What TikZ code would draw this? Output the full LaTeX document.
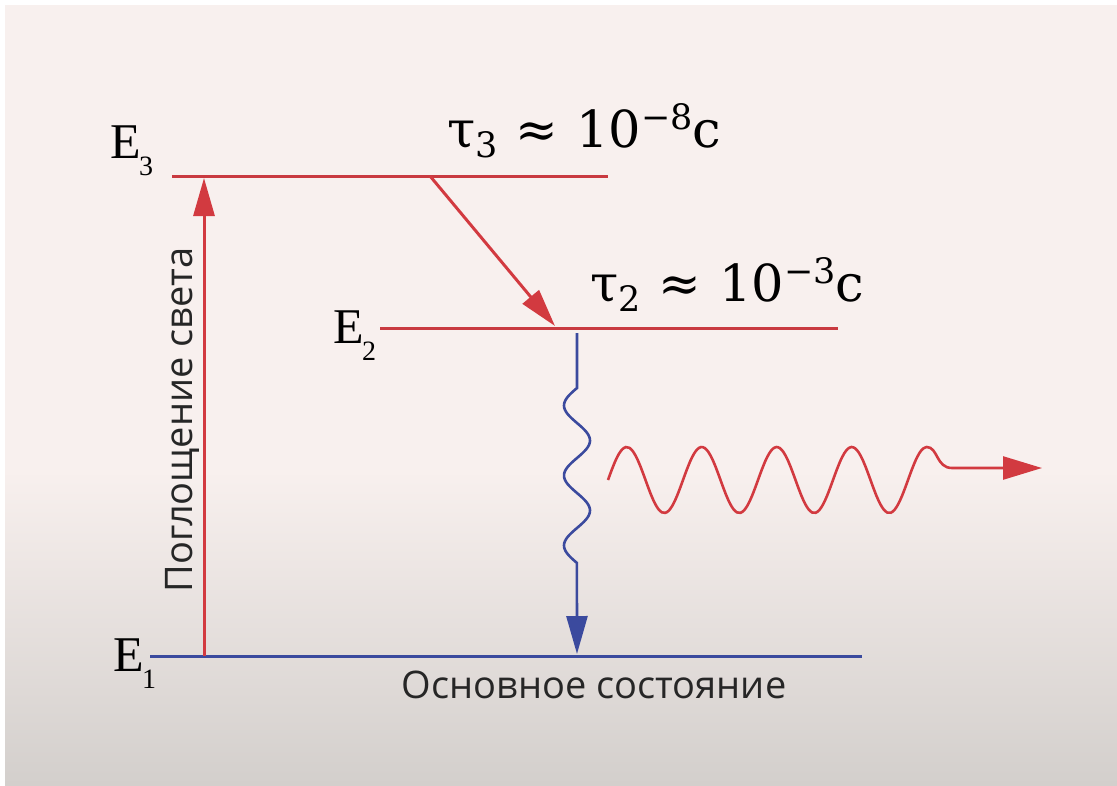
\documentclass[tikz,border=0pt]{standalone}
\usepackage{fontspec}
\setmainfont{Liberation Serif}
\newfontfamily\lblfont{Open Sans}
\newfontfamily\taufont{DejaVu Serif}
\usetikzlibrary{arrows.meta, positioning, calc}
\definecolor{lvlred}{HTML}{C93A40}
\definecolor{arrred}{HTML}{D23A40}
\definecolor{lvlblue}{HTML}{3B4A9E}
\definecolor{bgtop}{HTML}{F8F0EE}
\definecolor{bgbot}{HTML}{D3CFCC}
\tikzstyle{level} = [line width=3pt, line cap=butt]
\tikzstyle{arrow} = [line width=3pt, -{Triangle[length=38pt, width=21pt]}]
\tikzstyle{wave} = [line width=2.6pt, smooth, samples=90]
\tikzstyle{elbl} = [font=\fontsize{50}{50}\selectfont, inner sep=0pt, anchor=base west]
\tikzstyle{tlbl} = [font=\taufont\fontsize{51}{51}\selectfont, inner sep=0pt, anchor=base west]
\tikzstyle{rulbl} = [font=\lblfont\fontsize{38}{38}\selectfont, text=black!85, inner sep=0pt, anchor=base]
\newcommand{\lev}[1]{E\kern-0.03em\raisebox{-17pt}{\fontsize{28}{28}\selectfont #1}}
\newcommand{\life}[2]{τ\raisebox{-10pt}{\fontsize{35}{35}\selectfont #1}\hspace{0.35em}≈\hspace{0.35em}10\raisebox{18pt}{\fontsize{35}{35}\selectfont −#2}с}

\begin{document}
\begin{tikzpicture}[x=1pt, y=-1pt]
\useasboundingbox (0,0) rectangle (1117,785);
% background
\fill[white] (0,0) rectangle (1117,785);
\fill[bgtop] (5,5) rectangle (1117,470);
\shade[top color=bgtop, bottom color=bgbot] (5,470) rectangle (1117,785);

% levels
\coordinate (e3a) at (172,176); \coordinate (e3b) at (608,176);
\coordinate (e2a) at (380,328); \coordinate (e2b) at (838,328);
\coordinate (e1a) at (150,656); \coordinate (e1b) at (862,656);
\coordinate (absbot) at (204,656); \coordinate (abstop) at (204,178);
\coordinate (decay3) at (430,176); \coordinate (decay2) at (555,326);
\coordinate (lumtop) at (577,333); \coordinate (lumbot) at (577,654);
\coordinate (photon) at (608,480); \coordinate (phototip) at (1042,468);

\node (lblE3) [elbl] at (110,158) {\lev{3}};
\node (lblE2) [elbl] at (333,343) {\lev{2}};
\node (lblE1) [elbl] at (113,671) {\lev{1}};
\node (tau3) [tlbl] at (447,147) {\life{3}{8}};
\node (tau2) [tlbl] at (590,301) {\life{2}{3}};
\node (absorb) [rulbl, rotate=90] at (192,420) {Поглощение света};
\node (ground) [rulbl] at (594,698) {Основное состояние};

\draw[level, lvlred] (e3a) -- (e3b);
\draw[level, lvlred] (e2a) -- (e2b);
\draw[level, lvlblue] (e1a) -- (e1b);

\draw[arrow, arrred] (absbot) -- (abstop);
\draw[arrow, arrred] (decay3) -- (decay2);
\draw[arrow, lvlblue, line width=2.6pt] (lumtop) -- ($(lumtop)+(0,55)$)
    -- plot[wave, domain=0:2.5] ({577-13*sin(\x*360)}, {388+70*\x}) -- (lumbot);
\draw[arrow, arrred, line width=2.6pt, -{Triangle[length=39pt, width=23pt]}] (photon)
    -- plot[wave, domain=0:4.25] ({608+75*\x}, {480-33*sin(\x*360)})
    .. controls (938,447) and (936,468) .. (952,468) -- (phototip);
\end{tikzpicture}
\end{document}
